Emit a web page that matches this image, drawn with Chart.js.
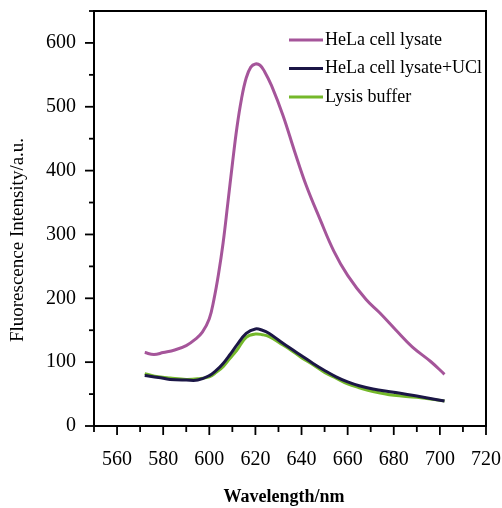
<!DOCTYPE html>
<html>
<head>
<meta charset="utf-8">
<script src="https://cdn.jsdelivr.net/npm/chart.js@4"></script>
<style>
  html, body { margin: 0; padding: 0; background: #fff; }
  #wrap { width: 502px; height: 508px; }
</style>
</head>
<body>
<div id="wrap"><canvas id="spectrum"></canvas></div>
<script>
// series labels
const seriesNames = ['HeLa cell lysate', 'HeLa cell lysate+UCl', 'Lysis buffer'];

// wavelengths (nm) for the lysate curve
const helaWl = [572, 576, 580, 585, 590, 594, 597, 600, 602, 604, 606, 608, 610, 612, 614, 616, 618, 620, 622, 624, 627, 632, 637, 642, 648, 654, 660, 668, 674, 681, 688, 696, 702];
const helaVals = [115, 112, 115, 119, 126, 136, 147, 168, 198, 238, 287, 348, 410, 468, 513, 545, 562, 567, 565, 555, 533, 486, 430, 377, 324, 274, 236, 198, 177, 150, 124, 101, 81];

// wavelengths (nm) shared by the two low curves
const lowWl = [572, 578, 583, 590, 595, 600, 603, 606, 609, 612, 616, 620, 623, 626, 631, 635, 640, 645, 650, 655, 660, 665, 671, 680, 690, 702];
const uclVals = [79, 76, 73, 72, 72, 79, 87, 98, 112, 127, 145, 152, 150, 145, 132, 122, 110, 98, 87, 77, 69, 63, 58, 53, 47, 39];
const bufferVals = [82, 77, 75, 73, 74, 77, 84, 93, 106, 119, 139, 144, 143, 140, 129, 120, 107, 96, 84, 75, 66, 60, 54, 48, 45, 39];

const colors = ['#a5559a', '#1b1646', '#74b82a'];
const serif = "'Liberation Serif', 'Times New Roman', serif";

function toPoints(xs, ys) {
    return xs.map((x, i) => ({ x: x, y: ys[i] }));
}

// axis box, tick marks, titles and legend
const framePlugin = {
    id: 'frame',
    afterDraw(chart) {
        const ctx = chart.ctx;
        const area = chart.chartArea;
        const xs = chart.scales.x;
        const ys = chart.scales.y;
        ctx.save();
        ctx.strokeStyle = '#000';
        ctx.lineWidth = 2;
        ctx.beginPath();
        ctx.moveTo(area.left, area.top);
        ctx.lineTo(area.right, area.top);
        ctx.lineTo(area.right, area.bottom);
        ctx.stroke();

        ctx.lineWidth = 1.8;
        ys.ticks.forEach(t => {
            const y = ys.getPixelForValue(t.value);
            const len = t.value % 100 === 0 ? 9 : 5;
            ctx.beginPath();
            ctx.moveTo(area.left - len, y);
            ctx.lineTo(area.left, y);
            ctx.stroke();
        });
        xs.ticks.forEach(t => {
            const x = xs.getPixelForValue(t.value);
            const len = t.value % 20 === 0 ? 9 : 6;
            ctx.beginPath();
            ctx.moveTo(x, area.bottom);
            ctx.lineTo(x, area.bottom + len);
            ctx.stroke();
        });

        // axis titles
        ctx.fillStyle = '#000';
        ctx.textAlign = 'center';
        ctx.textBaseline = 'middle';
        ctx.font = 'bold 18px ' + serif;
        ctx.fillText('Wavelength/nm', 284, 497);
        ctx.save();
        ctx.translate(18, 240);
        ctx.rotate(-Math.PI / 2);
        ctx.font = '19px ' + serif;
        ctx.fillText('Fluorescence Intensity/a.u.', 0, 0);
        ctx.restore();

        // legend
        ctx.textAlign = 'left';
        ctx.font = '18px ' + serif;
        chart.data.datasets.forEach((ds, i) => {
            const y = 40 + i * 28.5;
            ctx.strokeStyle = ds.borderColor;
            ctx.lineWidth = 3;
            ctx.beginPath();
            ctx.moveTo(289, y);
            ctx.lineTo(323, y);
            ctx.stroke();
            ctx.fillStyle = '#000';
            ctx.fillText(ds.label, 325, y);
        });
        ctx.restore();
    }
};

const ctx = document.getElementById('spectrum').getContext('2d');
new Chart(ctx, {
    type: 'line',
    data: {
        datasets: [
            { label: seriesNames[0], data: toPoints(helaWl, helaVals), borderColor: colors[0] },
            { label: seriesNames[1], data: toPoints(lowWl, uclVals), borderColor: colors[1] },
            { label: seriesNames[2], data: toPoints(lowWl, bufferVals), borderColor: colors[2] }
        ]
    },
    options: {
        responsive: true,
        maintainAspectRatio: false,
        animation: false,
        layout: { padding: { top: 11, right: 16, left: 0, bottom: 0 } },
        elements: {
            point: { radius: 0 },
            line: { borderWidth: 3, tension: 0.4 }
        },
        plugins: { legend: { display: false }, tooltip: { enabled: false } },
        scales: {
            x: {
                type: 'linear',
                min: 550,
                max: 720,
                grid: { drawOnChartArea: false, color: 'transparent', tickLength: 9 },
                border: { display: true, color: '#000', width: 2 },
                ticks: {
                    stepSize: 10,
                    autoSkip: false,
                    maxRotation: 0,
                    padding: 13,
                    color: '#000',
                    font: { family: serif, size: 20 },
                    callback: v => (v % 20 === 0 ? v : '')
                },
                afterFit: scale => {
                    scale.height = 82;
                    scale.paddingLeft = 0;
                    scale.paddingRight = 0;
                }
            },
            y: {
                min: 0,
                max: 650,
                grid: { drawOnChartArea: false, color: 'transparent', tickLength: 9 },
                border: { display: true, color: '#000', width: 2 },
                ticks: {
                    stepSize: 50,
                    autoSkip: false,
                    padding: 9,
                    color: '#000',
                    font: { family: serif, size: 20 },
                    callback: v => (v % 100 === 0 ? v : '')
                },
                afterFit: scale => {
                    scale.width = 94;
                    scale.paddingTop = 0;
                    scale.paddingBottom = 0;
                }
            }
        }
    },
    plugins: [framePlugin]
});
</script>
</body>
</html>
